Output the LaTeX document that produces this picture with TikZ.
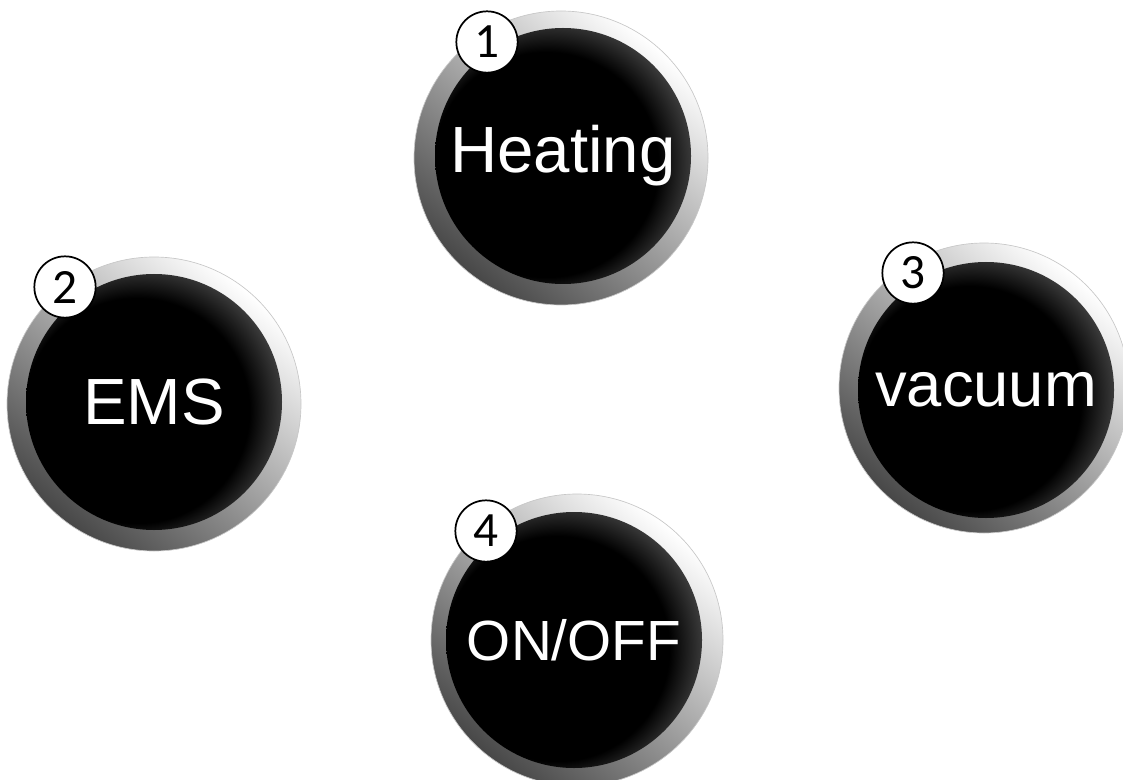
\documentclass[tikz,border=0pt]{standalone}
\usepackage{fontspec}
\setmainfont{Liberation Sans}
\newfontfamily\badgefont{Carlito}

\pgfdeclareradialshading{knobshade}{\pgfpoint{-6bp}{-3bp}}{color(0bp)=(black);color(22bp)=(black);color(31bp)=(black!65);color(50bp)=(black!65)}

\tikzset{every picture/.style={line width=0.75pt}}
\tikzset{
  ring/.style={top color=white, bottom color=black!72, shading angle=-40, draw=black!22, line width=0.5pt},
  knob/.style={circle, shading=knobshade, minimum size=192pt, inner sep=0pt, text=white, font=\fontsize{49}{54}\selectfont},
  badge/.style={circle, draw, fill=white, line width=1.3pt, minimum size=46pt, inner sep=0pt, font=\badgefont\fontsize{37}{42}\selectfont}
}

\begin{document}
\begin{tikzpicture}[x=0.75pt,y=0.75pt,yscale=-1,xscale=1]
\useasboundingbox (0,0) rectangle (1123,780);

%Rings
\path[ring] (561,158) circle (147);
\path[ring] (154,404) circle (147);
\path[ring] (984,388) circle (145);
\path[ring] (577,640) circle (146);

%Buttons
\node[knob] (heating) at (563,156) {Heating};
\node[knob] (ems) at (154,402) {EMS};
\node[knob, font=\fontsize{47.5}{52}\selectfont] (vacuum) at (986,390) {vacuum};
\node[knob, font=\fontsize{42.5}{47}\selectfont] (onoff) at (574,640) {ON/OFF};

%Numbers
\node[badge] (n1) at (487,42) {1};
\node[badge] (n2) at (65,287) {2};
\node[badge] (n3) at (913,273) {3};
\node[badge] (n4) at (486,531) {4};

\end{tikzpicture}
\end{document}
